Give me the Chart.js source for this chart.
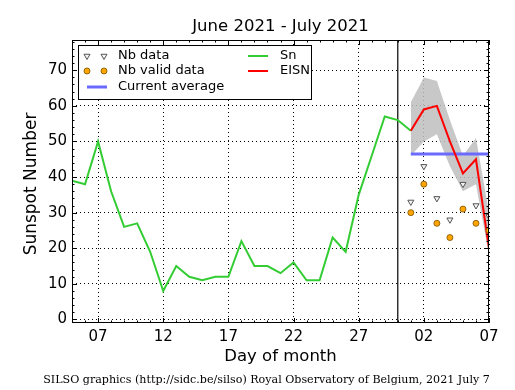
<!DOCTYPE html>
<html>
<head>
<meta charset="utf-8">
<script src="https://cdn.jsdelivr.net/npm/chart.js@4.4.1/dist/chart.umd.min.js"></script>
<style>
  body { margin: 0; background: #fff; }
  canvas { display: block; }
</style>
</head>
<body>
<canvas id="chart" width="515" height="390"></canvas>
<script>
// days counted from June 1 (July 1 = 31)
const snDays = [5,6,7,8,9,10,11,12,13,14,15,16,17,18,19,20,21,22,23,24,25,26,27,28,29,30,31];
const snValues = [39,38,50,36,26,27,19,8,15,12,11,12,12,22,15,15,13,16,11,11,23,19,35,46,57,56,53];

const eisnDays = [31,32,33,34,35,36,37];
const eisnValues = [53,59,60,50,41,45,20];
const bandUpper = [61,68,67,56,46,51,30];
const bandLower = [46,50,52,43,36,38,18];
const nbData = [33,43,34,28,38,32,29];
const nbValid = [30,38,27,23,31,27,25];
const currentAverage = 46.5;

const xTickDays = [7,12,17,22,27,32,37];
const xTickLabels = ['07','12','17','22','27','02','07'];
const yTicks = [0,10,20,30,40,50,60,70];
const monthBreak = 30;

const pts = (xs, ys) => xs.map((x, i) => ({ x: x, y: Array.isArray(ys) ? ys[i] : ys }));

const FONT = '"DejaVu Sans", sans-serif';
const GREEN = '#33cc33', RED = '#ff0000', BLUE = '#6a6aff', ORANGE = '#ffa500';

const decor = {
  id: 'decor',
  afterDraw(chart) {
    const ctx = chart.ctx;
    const a = chart.chartArea;
    const xs = chart.scales.x, ys = chart.scales.y;
    ctx.save();
    // inward ticks, all four sides
    ctx.strokeStyle = '#000';
    ctx.lineWidth = 1;
    ctx.beginPath();
    for (let d = Math.ceil(xs.min); d <= xs.max; d++) {
      const px = Math.round(xs.getPixelForValue(d)) + 0.5;
      const len = xTickDays.includes(d) ? 5 : 2.5;
      ctx.moveTo(px, a.bottom); ctx.lineTo(px, a.bottom - len);
      ctx.moveTo(px, a.top); ctx.lineTo(px, a.top + len);
    }
    for (let v = 0; v <= ys.max; v += 2) {
      const py = Math.round(ys.getPixelForValue(v)) + 0.5;
      const len = v % 10 === 0 ? 5 : 2.5;
      ctx.moveTo(a.left, py); ctx.lineTo(a.left + len, py);
      ctx.moveTo(a.right, py); ctx.lineTo(a.right - len, py);
    }
    ctx.stroke();
    // frame
    ctx.strokeRect(a.left + 0.5, a.top + 0.5, a.right - a.left - 1, a.bottom - a.top - 1);

    // legend
    const lx = 78, ly = 45, lw = 233, lh = 54;
    ctx.fillStyle = '#fff';
    ctx.fillRect(lx, ly, lw, lh);
    ctx.strokeStyle = '#000';
    ctx.strokeRect(lx + 0.5, ly + 0.5, lw, lh);
    ctx.font = '13px ' + FONT;
    ctx.textBaseline = 'middle';
    ctx.textAlign = 'left';
    const rows = [56, 71, 87];
    [87, 104].forEach(mx => {
      ctx.fillStyle = '#f4f4f4'; ctx.strokeStyle = '#555'; ctx.lineWidth = 1;
      Chart.helpers.drawPoint(ctx, { pointStyle: 'triangle', rotation: 180, radius: 3.5, borderWidth: 1 }, mx, rows[0]);
      ctx.fillStyle = ORANGE; ctx.strokeStyle = '#7a5000'; ctx.lineWidth = 0.8;
      Chart.helpers.drawPoint(ctx, { pointStyle: 'circle', radius: 3, borderWidth: 0.8 }, mx, rows[1]);
    });
    ctx.fillStyle = '#000';
    ctx.fillText('Nb data', 118, rows[0]);
    ctx.fillText('Nb valid data', 118, rows[1]);
    ctx.fillText('Current average', 118, rows[2]);
    ctx.fillText('Sn', 280, rows[0]);
    ctx.fillText('EISN', 280, rows[1]);
    ctx.lineWidth = 3; ctx.strokeStyle = BLUE;
    ctx.beginPath(); ctx.moveTo(87, rows[2]); ctx.lineTo(107, rows[2]); ctx.stroke();
    ctx.lineWidth = 2; ctx.strokeStyle = GREEN;
    ctx.beginPath(); ctx.moveTo(248, rows[0]); ctx.lineTo(268, rows[0]); ctx.stroke();
    ctx.strokeStyle = RED;
    ctx.beginPath(); ctx.moveTo(248, rows[1]); ctx.lineTo(268, rows[1]); ctx.stroke();

    // titles
    ctx.fillStyle = '#000';
    ctx.textAlign = 'center';
    ctx.font = '16.5px ' + FONT;
    ctx.fillText('June 2021 - July 2021', (a.left + a.right) / 2, 27);
    ctx.fillText('Day of month', (a.left + a.right) / 2, 357);
    ctx.save();
    ctx.translate(32, 184);
    ctx.rotate(-Math.PI / 2);
    ctx.font = '17px ' + FONT;
    ctx.fillText('Sunspot Number', 0, 0);
    ctx.restore();
    ctx.font = '11.1px "DejaVu Serif", serif';
    ctx.fillText('SILSO graphics (http://sidc.be/silso) Royal Observatory of Belgium, 2021 July 7', 266.5, 380);
    ctx.restore();
  }
};

new Chart(document.getElementById('chart'), {
  type: 'line',
  data: {
    datasets: [
      { label: 'Sn', data: pts(snDays, snValues), borderColor: GREEN, borderWidth: 2, pointRadius: 0, order: 3 },
      { label: 'EISN', data: pts(eisnDays, eisnValues), borderColor: RED, borderWidth: 2, pointRadius: 0, order: 1 },
      { label: 'band upper', data: pts(eisnDays, bandUpper), borderWidth: 0, pointRadius: 0, fill: '+1', backgroundColor: 'rgba(190,190,190,0.85)', order: 9 },
      { label: 'band lower', data: pts(eisnDays, bandLower), borderWidth: 0, pointRadius: 0, order: 10 },
      { label: 'Current average', data: pts(eisnDays, currentAverage), borderColor: BLUE, borderWidth: 3, pointRadius: 0, order: 2 },
      { label: 'Nb data', data: pts(eisnDays, nbData), showLine: false, pointStyle: 'triangle', rotation: 180, pointRadius: 3.5, pointBackgroundColor: '#f4f4f4', pointBorderColor: '#555', pointBorderWidth: 1, order: 0 },
      { label: 'Nb valid data', data: pts(eisnDays, nbValid), showLine: false, pointStyle: 'circle', pointRadius: 3, pointBackgroundColor: ORANGE, pointBorderColor: '#7a5000', pointBorderWidth: 0.8, order: 0 },
      { label: 'month break', data: [{ x: monthBreak, y: -5 }, { x: monthBreak, y: 90 }], borderColor: '#000', borderWidth: 1.2, pointRadius: 0, order: 4 }
    ]
  },
  options: {
    responsive: false,
    animation: false,
    devicePixelRatio: 1,
    layout: { padding: { top: 40, right: 26, left: 0, bottom: 0 } },
    plugins: { legend: { display: false }, tooltip: { enabled: false } },
    elements: { line: { tension: 0 } },
    scales: {
      x: {
        type: 'linear', min: 5, max: 37,
        afterBuildTicks: s => { s.ticks = xTickDays.map(v => ({ value: v })); },
        afterFit: s => { s.height = 67; },
        ticks: {
          padding: 5, color: '#000', font: { family: FONT, size: 15 },
          callback: v => xTickLabels[xTickDays.indexOf(v)]
        },
        grid: { color: '#000', lineWidth: 1, drawTicks: false },
        border: { display: false, dash: [1, 3] }
      },
      y: {
        type: 'linear', min: -1, max: 78.5,
        afterBuildTicks: s => { s.ticks = yTicks.map(v => ({ value: v })); },
        afterFit: s => { s.width = 72; },
        ticks: { padding: 5, color: '#000', font: { family: FONT, size: 15 } },
        grid: { color: '#000', lineWidth: 1, drawTicks: false },
        border: { display: false, dash: [1, 3] }
      }
    }
  },
  plugins: [decor]
});
</script>
</body>
</html>
